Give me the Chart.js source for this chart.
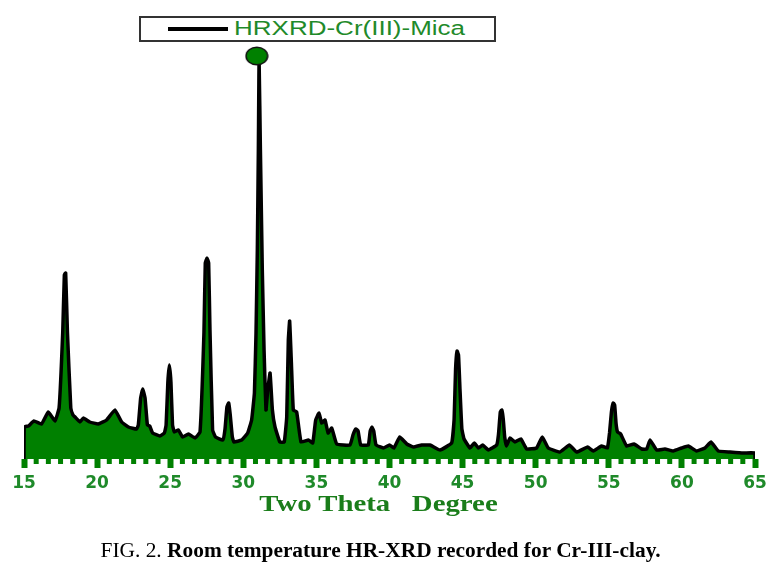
<!DOCTYPE html>
<html>
<head>
<meta charset="utf-8">
<title>HR-XRD</title>
<script src="https://cdn.jsdelivr.net/npm/chart.js@4"></script>
<style>
  body { margin: 0; background: #fff; }
  #wrap { position: relative; width: 782px; height: 571px; overflow: hidden; }
  #legend { position: absolute; left: 139px; top: 16px; width: 353px; height: 22px; border: 2px solid #333; background: #fff; }
  #legend i { position: absolute; left: 27px; top: 9px; width: 60px; height: 3.5px; background: #000; }
  #legend span { position: absolute; left: 93px; top: -1px; font: 20px "Liberation Sans", sans-serif; color: #1f8a2a; white-space: nowrap; transform: scaleX(1.3); transform-origin: left center; }
  #xtitle { position: absolute; left: 0; width: 757px; text-align: center; top: 490px; font: bold 24px "Liberation Serif", serif; color: #1a7d1a; white-space: pre; transform: scaleX(1.2); transform-origin: 378.5px center; }
  #caption { position: absolute; left: 0; width: 761px; text-align: center; top: 538px; font: 21.4px "Liberation Serif", serif; color: #000; white-space: nowrap; }
</style>
</head>
<body>
<div id="wrap">
  <canvas id="myChart" width="782" height="571"></canvas>
  <div id="legend"><i></i><span>HRXRD-Cr(III)-Mica</span></div>
  <div id="xtitle">Two Theta   Degree</div>
  <div id="caption">FIG. 2. <b>Room temperature HR-XRD recorded for Cr-III-clay.</b></div>
</div>
<script>
// values
var twoTheta = [15, 15.02, 15.3, 15.68, 16.2, 16.66, 17.12, 17.4, 17.65, 17.76, 17.85, 17.97, 18.2, 18.35, 18.49, 18.83, 19.06, 19.5, 20.08, 20.65,
  21.22, 21.68, 22.14, 22.7, 22.82, 22.98, 23.12, 23.28, 23.44, 23.6, 23.8, 24.3, 24.6, 24.72, 24.84, 24.94, 25.05, 25.16, 25.28, 25.56,
  25.85, 26.24, 26.7, 27.04, 27.31, 27.4, 27.52, 27.63, 27.72, 27.9, 28.1, 28.6, 28.75, 28.88, 29.0, 29.1, 29.25, 29.36, 29.89, 30.3,
  30.57, 30.76, 30.87, 30.96, 31.03, 31.08, 31.17, 31.3, 31.42, 31.55, 31.67, 31.83, 31.99, 32.17, 32.5, 32.8, 32.97, 33.08, 33.17, 33.29,
  33.42, 33.65, 33.95, 34.45, 34.75, 34.95, 35.18, 35.36, 35.59, 35.8, 36.05, 36.39, 37.3, 37.5, 37.7, 37.85, 38.03, 38.55, 38.68, 38.8,
  38.92, 39.08, 39.58, 40, 40.3, 40.7, 41.18, 41.63, 42.2, 42.77, 43.46, 44.25, 44.42, 44.52, 44.62, 44.72, 44.82, 44.95, 45.1, 45.5,
  45.8, 46.08, 46.37, 46.76, 47.33, 47.45, 47.58, 47.68, 47.78, 47.88, 48.0, 48.24, 48.58, 48.99, 49.38, 50.06, 50.45, 50.86, 51.66, 52.3,
  52.8, 53.55, 53.94, 54.5, 54.9, 55.05, 55.18, 55.3, 55.4, 55.5, 55.6, 55.81, 56.22, 56.72, 57.25, 57.59, 57.82, 58.27, 58.84, 59.41,
  59.98, 60.44, 61.0, 61.58, 61.99, 62.49, 63.29, 64.2, 65, 65];
var intensity = [0, 32, 33, 38, 35, 47, 38, 51, 127, 184, 186, 127, 51, 44, 42, 37, 41, 37, 35, 39,
  49, 37, 32, 30, 34, 61, 70, 61, 34, 33, 26, 23, 26, 34, 77, 94, 77, 34, 27, 29,
  22, 25, 21, 27, 127, 196, 201, 196, 129, 29, 22, 19, 30, 52, 56, 45, 22, 17, 19, 26,
  39, 66, 126, 209, 309, 399, 309, 189, 109, 49, 69, 86, 49, 32, 17, 17, 42, 119, 138, 96,
  49, 47, 17, 19, 16, 39, 46, 36, 39, 26, 31, 15, 14, 24, 30, 28, 14, 14, 28, 32,
  28, 14, 11, 14, 11, 22, 15, 12, 14, 14, 9, 16, 40, 90, 108, 104, 70, 30, 20, 11,
  16, 11, 14, 9, 14, 24, 47, 49, 40, 22, 13, 21, 17, 20, 10, 11, 22, 11, 7, 14,
  7, 12, 8, 13, 11, 26, 47, 56, 54, 35, 27, 25, 13, 15, 10, 10, 19, 9, 10, 8,
  11, 13, 8, 11, 17, 8, 7, 6, 6, 0];
var markerX = [30.92];
var markerY = [403];
var tickLabels = [15, 20, 25, 30, 35, 40, 45, 50, 55, 60, 65];
var minorPerMajor = 6;

var GREEN = '#008000';

function zip(xs, ys) {
  return xs.map(function (x, i) { return { x: x, y: ys[i] }; });
}

// oval marker sitting on top of the main peak
function makeOval() {
  var c = document.createElement('canvas');
  c.width = 24; c.height = 20;
  var g = c.getContext('2d');
  g.beginPath();
  g.ellipse(12, 10, 10.8, 8.8, 0, 0, Math.PI * 2);
  g.fillStyle = GREEN;
  g.fill();
  g.lineWidth = 1.5;
  g.strokeStyle = '#111';
  g.stroke();
  return c;
}

// short ticks between the labelled ones
var minorTicks = {
  id: 'minorTicks',
  afterDatasetsDraw: function (chart) {
    var sc = chart.scales.x, c = chart.ctx;
    c.save();
    c.fillStyle = GREEN;
    for (var i = 0; i < tickLabels.length - 1; i++) {
      for (var k = 1; k < minorPerMajor; k++) {
        var v = tickLabels[i] + (tickLabels[i + 1] - tickLabels[i]) * k / minorPerMajor;
        c.fillRect(sc.getPixelForValue(v) - 2.5, chart.chartArea.bottom, 5, 5);
      }
    }
    c.restore();
  }
};

new Chart(document.getElementById('myChart').getContext('2d'), {
  type: 'line',
  plugins: [minorTicks],
  data: {
    datasets: [
      {
        data: zip(twoTheta, intensity),
        borderColor: '#000',
        borderWidth: 3.5,
        borderJoinStyle: 'round',
        backgroundColor: GREEN,
        fill: 'origin',
        pointRadius: 0,
        tension: 0.1,
        order: 2
      },
      {
        data: zip(markerX, markerY),
        showLine: false,
        pointStyle: makeOval(),
        order: 1
      }
    ]
  },
  options: {
    responsive: false,
    animation: false,
    layout: { padding: { left: 24, right: 27, top: 39, bottom: 30 } },
    plugins: { legend: { display: false }, tooltip: { enabled: false } },
    scales: {
      y: { display: false, min: 0, max: 420 },
      x: {
        type: 'linear',
        min: 15,
        max: 65,
        border: { display: false },
        grid: { drawOnChartArea: false, drawTicks: true, tickLength: 9, tickWidth: 6, tickColor: GREEN },
        afterBuildTicks: function (scale) {
          scale.ticks = tickLabels.map(function (v) { return { value: v }; });
        },
        ticks: {
          autoSkip: false,
          maxRotation: 0,
          padding: 5,
          color: '#1f8a2a',
          font: { family: 'DejaVu Sans', size: 17, weight: 'bold' }
        },
        afterFit: function (scale) { scale.height = 82; }
      }
    }
  }
});
</script>
</body>
</html>
